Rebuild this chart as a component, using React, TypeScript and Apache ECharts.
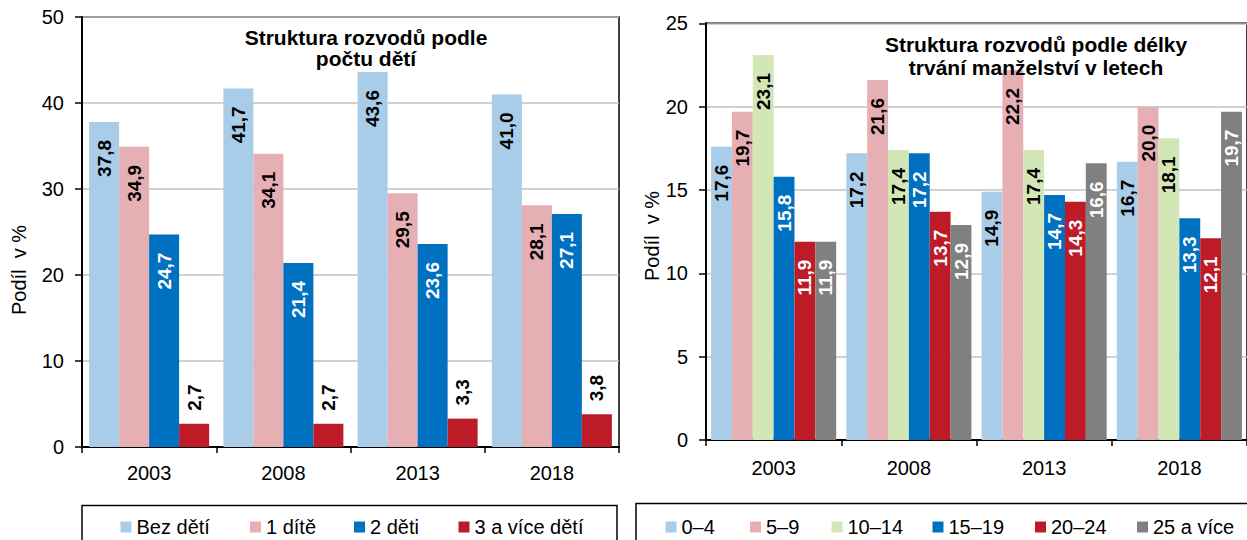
import React, { useEffect, useRef } from "react";
import * as echarts from "echarts";

const years = ["2003", "2008", "2013", "2018"];

// Left chart: structure of divorces by number of children (%)
const bezDeti = [37.8, 41.7, 43.6, 41.0];
const jednoDite = [34.9, 34.1, 29.5, 28.1];
const dveDeti = [24.7, 21.4, 23.6, 27.1];
const triAViceDeti = [2.7, 2.7, 3.3, 3.8];

// Right chart: structure of divorces by duration of marriage (%)
const dur0_4 = [17.6, 17.2, 14.9, 16.7];
const dur5_9 = [19.7, 21.6, 22.2, 20.0];
const dur10_14 = [23.1, 17.4, 17.4, 18.1];
const dur15_19 = [15.8, 17.2, 14.7, 13.3];
const dur20_24 = [11.9, 13.7, 14.3, 12.1];
const dur25plus = [11.9, 12.9, 16.6, 19.7];

const leftNames = ["Bez dětí", "1 dítě", "2 děti", "3 a více dětí"];
const rightNames = ["0–4", "5–9", "10–14", "15–19", "20–24", "25 a více"];

const FONT = "Liberation Sans, Arial, sans-serif";

const C = {
  lightBlue: "#A9CDE8",
  pink: "#E6AFB3",
  blue: "#0070C0",
  red: "#BE1B28",
  green: "#D3E6B6",
  gray: "#808080",
};

const fmt = (p: any) => Number(p.value).toFixed(1).replace(".", ",");

function insideLabel(color: string) {
  return {
    show: true,
    position: "insideTop",
    distance: 18,
    rotate: 90,
    align: "right",
    verticalAlign: "middle",
    color,
    fontSize: 19,
    fontWeight: "bold",
    fontFamily: FONT,
    formatter: fmt,
  };
}

function outsideLabel(color: string) {
  return {
    show: true,
    position: "top",
    distance: 13,
    rotate: 90,
    align: "left",
    verticalAlign: "middle",
    color,
    fontSize: 19,
    fontWeight: "bold",
    fontFamily: FONT,
    formatter: fmt,
  };
}

export default function App() {
  const ref = useRef<HTMLDivElement>(null);

  useEffect(() => {
    document.body.style.margin = "0";
    if (!ref.current) return;
    const chart = echarts.init(ref.current, undefined, { renderer: "svg" });

    const axisLabelStyle = { color: "#000", fontSize: 20, fontFamily: FONT };

    const leftSeriesData = [bezDeti, jednoDite, dveDeti, triAViceDeti];
    const leftColors = [C.lightBlue, C.pink, C.blue, C.red];
    const leftLabels = [
      insideLabel("#000"),
      insideLabel("#000"),
      insideLabel("#fff"),
      outsideLabel("#000"),
    ];

    const rightSeriesData = [dur0_4, dur5_9, dur10_14, dur15_19, dur20_24, dur25plus];
    const rightColors = [C.lightBlue, C.pink, C.green, C.blue, C.red, C.gray];
    const rightLabelColors = ["#000", "#000", "#000", "#fff", "#fff", "#fff"];

    const series: any[] = [];
    leftNames.forEach((name, i) => {
      series.push({
        name,
        type: "bar",
        xAxisIndex: 0,
        yAxisIndex: 0,
        data: leftSeriesData[i],
        itemStyle: { color: leftColors[i] },
        barGap: "0%",
        barCategoryGap: "10.6%",
        label: leftLabels[i],
      });
    });
    rightNames.forEach((name, i) => {
      series.push({
        name,
        type: "bar",
        xAxisIndex: 1,
        yAxisIndex: 1,
        data: rightSeriesData[i],
        itemStyle: { color: rightColors[i] },
        barGap: "0%",
        barCategoryGap: "7.5%",
        label: insideLabel(rightLabelColors[i]),
      });
    });

    const leftLegendX = [120.5, 250, 354, 458.5];
    const rightLegendX = [665.5, 750, 831.5, 932.5, 1035, 1137];
    const legends: any[] = [];
    leftNames.forEach((n, i) =>
      legends.push({
        data: [n],
        left: leftLegendX[i],
        top: 517,
        itemWidth: 11,
        itemHeight: 11,
        icon: "rect",
        textStyle: { fontSize: 20, color: "#000", fontFamily: FONT },
        padding: 0,
      })
    );
    rightNames.forEach((n, i) =>
      legends.push({
        data: [n],
        left: rightLegendX[i],
        top: 517,
        itemWidth: 11,
        itemHeight: 11,
        icon: "rect",
        textStyle: { fontSize: 20, color: "#000", fontFamily: FONT },
        padding: 0,
      })
    );

    const xAxisBase = (gridIndex: number, margin: number) => ({
      type: "category",
      gridIndex,
      data: years,
      axisLine: { show: true, lineStyle: { color: "#000", width: 2 } },
      axisTick: { show: true, length: 6, lineStyle: { color: "#000", width: 1.5 } },
      axisLabel: { ...axisLabelStyle, margin },
      splitLine: { show: false },
    });

    const yAxisBase = (gridIndex: number, max: number, interval: number) => ({
      type: "value",
      gridIndex,
      min: 0,
      max,
      interval,
      axisLine: { show: true, lineStyle: { color: "#000", width: 2 } },
      axisTick: { show: true, length: 7, lineStyle: { color: "#000", width: 1.5 } },
      axisLabel: { ...axisLabelStyle, margin: 18 },
      splitLine: { show: true, lineStyle: { color: "#C0C0C0", width: 1.5 } },
    });

    chart.setOption({
      animation: false,
      backgroundColor: "#fff",
      textStyle: { fontFamily: FONT },
      grid: [
        { left: 82, top: 17, width: 537, height: 430, show: true, borderColor: "#000", borderWidth: 1.5 },
        { left: 706, top: 23.3, width: 545, height: 416.7, show: true, borderColor: "#000", borderWidth: 1.5 },
      ],
      xAxis: [xAxisBase(0, 16), xAxisBase(1, 18)],
      yAxis: [yAxisBase(0, 50, 10), yAxisBase(1, 25, 5)],
      legend: legends,
      series,
      graphic: [
        {
          type: "text",
          x: 366,
          y: 27,
          z: 100,
          style: {
            text: "Struktura rozvodů podle\npočtu dětí",
            align: "center",
            verticalAlign: "top",
            font: `bold 21px ${FONT}`,
            lineHeight: 21,
            fill: "#000",
          },
        },
        {
          type: "text",
          x: 1036,
          y: 33,
          z: 100,
          style: {
            text: "Struktura rozvodů podle délky\ntrvání manželství v letech",
            align: "center",
            verticalAlign: "top",
            font: `bold 21px ${FONT}`,
            lineHeight: 23,
            fill: "#000",
          },
        },
        {
          type: "text",
          x: 19,
          y: 270,
          rotation: Math.PI / 2,
          z: 100,
          style: {
            text: "Podíl  v %",
            align: "center",
            verticalAlign: "middle",
            font: `20px ${FONT}`,
            fill: "#000",
          },
        },
        {
          type: "text",
          x: 652,
          y: 236,
          rotation: Math.PI / 2,
          z: 100,
          style: {
            text: "Podíl  v %",
            align: "center",
            verticalAlign: "middle",
            font: `20px ${FONT}`,
            fill: "#000",
          },
        },
        {
          type: "rect",
          shape: { x: 82, y: 505.5, width: 535, height: 60 },
          style: { fill: "none", stroke: "#000", lineWidth: 1.5 },
          z: 50,
        },
        {
          type: "rect",
          shape: { x: 636, y: 503.5, width: 640, height: 60 },
          style: { fill: "none", stroke: "#000", lineWidth: 1.5 },
          z: 50,
        },
      ],
    });

    return () => chart.dispose();
  }, []);

  return (
    <div
      ref={ref}
      style={{ position: "absolute", left: 0, top: 0, width: 1247, height: 540 }}
    />
  );
}
